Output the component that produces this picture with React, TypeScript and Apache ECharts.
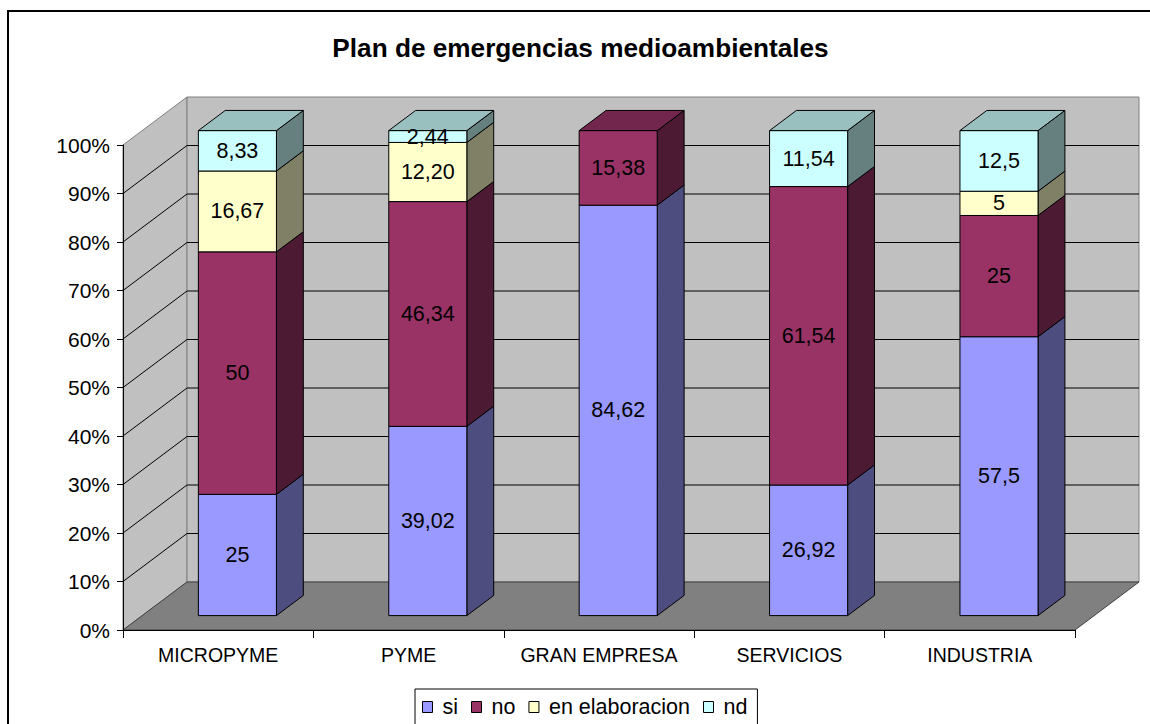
import React, { useEffect, useRef } from 'react';
import * as echarts from 'echarts';

const titleText = 'Plan de emergencias medioambientales';
const categories = ['MICROPYME', 'PYME', 'GRAN EMPRESA', 'SERVICIOS', 'INDUSTRIA'];
const seriesNames = ['si', 'no', 'en elaboracion', 'nd'];
const siValues = [25, 39.02, 84.62, 26.92, 57.5];
const noValues = [50, 46.34, 15.38, 61.54, 25];
const enElabValues = [16.67, 12.2, 0, 0, 5];
const ndValues = [8.33, 2.44, 0, 11.54, 12.5];
const siLabels = ['25', '39,02', '84,62', '26,92', '57,5'];
const noLabels = ['50', '46,34', '15,38', '61,54', '25'];
const enElabLabels = ['16,67', '12,20', '', '', '5'];
const ndLabels = ['8,33', '2,44', '', '11,54', '12,5'];
const yMin = 0;
const yMax = 100;
const yInterval = 10;
const gridValues = [10, 20, 30, 40, 50, 60, 70, 80, 90];

const seriesValues = [siValues, noValues, enElabValues, ndValues];
const seriesLabels = [siLabels, noLabels, enElabLabels, ndLabels];
const colors = ['#9999FF', '#993366', '#FFFFCC', '#CCFFFF'];

const FONT = "'Liberation Sans', Arial, Helvetica, sans-serif";
const DEPTH = [64, -48];
const F0 = 0.3;
const F1 = 0.72;
const BAR_FRAC = 0.41;

function shade(hex: string, k: number) {
  const n = parseInt(hex.slice(1), 16);
  const r = Math.round(((n >> 16) & 255) * k);
  const g = Math.round(((n >> 8) & 255) * k);
  const b = Math.round((n & 255) * k);
  return `rgb(${r},${g},${b})`;
}

export default function App() {
  const ref = useRef<HTMLDivElement>(null);
  useEffect(() => {
    if (!ref.current) return;
    const chart = echarts.init(ref.current, undefined, { renderer: 'svg' });

    const cum = categories.map(() => 0);
    const stacked = seriesValues.map((vals) =>
      vals.map((v, i) => {
        const s = cum[i];
        cum[i] += v;
        return [i, s, cum[i]];
      })
    );

    const wallSeries: any = {
      type: 'custom',
      name: '__walls',
      z: 1,
      silent: true,
      data: [[0]],
      renderItem: (params: any, api: any) => {
        const band = api.size([1, 0])[0];
        const x0 = api.coord([0, yMin])[0] - band / 2;
        const x1 = api.coord([categories.length - 1, yMin])[0] + band / 2;
        const y0 = api.coord([0, yMin])[1];
        const y100 = api.coord([0, yMax])[1];
        const [DX, DY] = DEPTH;
        const children: any[] = [
          {
            type: 'polygon',
            shape: { points: [[x0, y0], [x0, y100], [x0 + DX, y100 + DY], [x0 + DX, y0 + DY]] },
            style: { fill: '#c0c0c0', stroke: '#808080', lineWidth: 1 },
          },
          {
            type: 'polygon',
            shape: { points: [[x0 + DX, y100 + DY], [x1 + DX, y100 + DY], [x1 + DX, y0 + DY], [x0 + DX, y0 + DY]] },
            style: { fill: '#c0c0c0', stroke: '#808080', lineWidth: 1 },
          },
        ];
        gridValues.forEach((v) => {
          const y = api.coord([0, v])[1];
          children.push({
            type: 'polyline',
            shape: { points: [[x0, y], [x0 + DX, y + DY], [x1 + DX, y + DY]] },
            style: { fill: null, stroke: '#000', lineWidth: 1 },
          });
        });
        children.push({
          type: 'polygon',
          shape: { points: [[x0, y0], [x1, y0], [x1 + DX, y0 + DY], [x0 + DX, y0 + DY]] },
          style: { fill: '#808080', stroke: '#404040', lineWidth: 1 },
        });
        return { type: 'group', children };
      },
    };

    const barSeries = seriesNames.map((name, s) => ({
      type: 'custom',
      name,
      z: 5,
      silent: true,
      itemStyle: { color: colors[s], borderColor: '#000', borderWidth: 1 },
      data: stacked[s],
      renderItem: (params: any, api: any) => {
        const idx = api.value(0);
        const start = api.value(1);
        const end = api.value(2);
        if (end - start <= 0) return { type: 'group', children: [] };
        const pb = api.coord([idx, start]);
        const pt = api.coord([idx, end]);
        const band = api.size([1, 0])[0];
        const hw = (band * BAR_FRAC) / 2;
        const ox = DEPTH[0] * F0;
        const oy = DEPTH[1] * F0;
        const dx = DEPTH[0] * (F1 - F0);
        const dy = DEPTH[1] * (F1 - F0);
        const xl = pb[0] - hw + ox;
        const xr = pb[0] + hw + ox;
        const yb = pb[1] + oy;
        const yt = pt[1] + oy;
        const children: any[] = [
          {
            type: 'polygon',
            shape: { points: [[xr, yb], [xr + dx, yb + dy], [xr + dx, yt + dy], [xr, yt]] },
            style: { fill: shade(colors[s], 0.5), stroke: '#000', lineWidth: 1 },
          },
          {
            type: 'rect',
            shape: { x: xl, y: yt, width: xr - xl, height: yb - yt },
            style: { fill: colors[s], stroke: '#000', lineWidth: 1 },
          },
        ];
        if (end >= yMax - 0.01) {
          children.push({
            type: 'polygon',
            shape: { points: [[xl, yt], [xr, yt], [xr + dx, yt + dy], [xl + dx, yt + dy]] },
            style: { fill: shade(colors[s], 0.75), stroke: '#000', lineWidth: 1 },
          });
        }
        const lbl = seriesLabels[s][params.dataIndex];
        if (lbl) {
          children.push({
            type: 'text',
            style: {
              text: lbl,
              x: (xl + xr) / 2,
              y: (yt + yb) / 2,
              align: 'center',
              verticalAlign: 'middle',
              fill: '#000',
              fontSize: 21.5,
              fontFamily: FONT,
            },
          });
        }
        return { type: 'group', children };
      },
    }));

    chart.setOption({
      animation: false,
      backgroundColor: '#fff',
      textStyle: { fontFamily: FONT },
      graphic: [
        {
          type: 'rect',
          shape: { x: 8, y: 11, width: 1200, height: 800 },
          style: { fill: null, stroke: '#000', lineWidth: 2 },
          silent: true,
          z: 100,
        },
        {
          type: 'text',
          style: {
            text: titleText,
            x: 580.5,
            y: 48,
            align: 'center',
            verticalAlign: 'middle',
            fontSize: 26.2,
            fontWeight: 'bold',
            fontFamily: FONT,
            fill: '#000',
          },
          silent: true,
        },
      ],
      grid: { left: 123, top: 145, width: 952, height: 485, containLabel: false },
      xAxis: {
        type: 'category',
        data: categories,
        boundaryGap: true,
        z: 10,
        axisLine: { show: true, lineStyle: { color: '#000', width: 1 } },
        axisTick: { show: true, length: 8, lineStyle: { color: '#000' }, alignWithLabel: false },
        axisLabel: { color: '#000', fontSize: 19.5, fontFamily: FONT, margin: 15, interval: 0 },
        splitLine: { show: false },
      },
      yAxis: {
        type: 'value',
        min: yMin,
        max: yMax,
        interval: yInterval,
        z: 10,
        axisLine: { show: true, lineStyle: { color: '#000', width: 1 } },
        axisTick: { show: true, length: 6, lineStyle: { color: '#000' } },
        axisLabel: { color: '#000', fontSize: 21, fontFamily: FONT, margin: 13, formatter: '{value}%' },
        splitLine: { show: false },
      },
      legend: {
        data: seriesNames,
        left: 415,
        top: 689,
        orient: 'horizontal',
        icon: 'rect',
        itemWidth: 10,
        itemHeight: 11,
        itemGap: 13,
        padding: [7, 10, 9, 7],
        backgroundColor: '#fff',
        borderColor: '#000',
        borderWidth: 1,
        borderRadius: 0,
        selectedMode: false,
        textStyle: { color: '#000', fontSize: 21.5, fontFamily: FONT, padding: [0, 0, 0, 5] },
        itemStyle: { borderColor: '#000', borderWidth: 1 },
      },
      series: [wallSeries, ...barSeries],
    });
    return () => chart.dispose();
  }, []);
  return (
    <div
      ref={ref}
      style={{ position: 'fixed', left: 0, top: 0, width: 1150, height: 724, background: '#fff' }}
    />
  );
}
